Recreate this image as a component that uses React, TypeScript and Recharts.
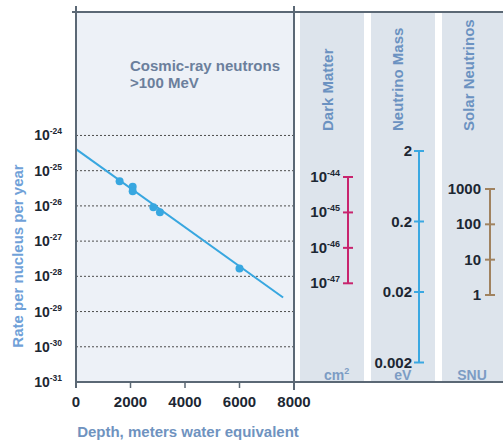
import React from 'react';
import { ComposedChart, Line, Scatter, XAxis, YAxis, CartesianGrid } from 'recharts';

// Depth axis (meters water equivalent)
const depthTicks = [0, 2000, 4000, 6000, 8000];
// Rate axis decades, per nucleus per year
const rateTicks = [1e-31, 1e-30, 1e-29, 1e-28, 1e-27, 1e-26, 1e-25, 1e-24];
// Measured cosmic-ray neutron rates at underground sites
const measuredDepth = [1600, 2080, 2080, 2840, 3080, 6000];
const measuredRate = [5.0e-26, 3.5e-26, 2.6e-26, 9.2e-27, 6.6e-27, 1.66e-28];
// Exponential fit through the measurements
const fitDepth = [0, 7600];
const fitRate = [4.1e-25, 2.5e-29];

// Sensitivity scales of the three physics searches
const darkMatterValues = [1e-44, 1e-45, 1e-46, 1e-47];
const neutrinoMassValues = [2, 0.2, 0.02, 0.002];
const neutrinoMassLabels = ['2', '0.2', '0.02', '0.002'];
const solarValues = [1000, 100, 10, 1];
const solarLabels = ['1000', '100', '10', '1'];

const FONT = "'Liberation Sans', Arial, Helvetica, sans-serif";
const FRAME = '#5b6875';
const INK = '#1c2733';
const LINE_BLUE = '#38a7e0';

const fitData = fitDepth.map((d, i) => ({ depth: d, rate: fitRate[i] }));
const measuredData = measuredDepth.map((d, i) => ({ depth: d, rate: measuredRate[i] }));

const expOf = (v: number) => Math.round(Math.log10(v));

const RateTick = (props: any) => {
  const { x, y, payload } = props;
  return (
    <text x={x} y={y} dy={5} textAnchor="end" fontFamily={FONT} fontWeight="bold" fontSize={14} fill={INK}>
      10
      <tspan fontSize={8.5} dy={-6}>{expOf(payload.value)}</tspan>
    </text>
  );
};

const DepthTick = (props: any) => {
  const { x, y, payload } = props;
  return (
    <text x={x} y={y} dy={17} textAnchor="middle" fontFamily={FONT} fontWeight="bold" fontSize={15} fill={INK}>
      {payload.value}
    </text>
  );
};

type SideProps = {
  values: number[];
  renderLabel: (v: number, i: number) => React.ReactNode;
  color: string;
  barX: number;
  yTop: number;
  yBottom: number;
  gap: number;
};

// One vertical sensitivity scale: a bar spanning the range, with a cap at each decade
function SideScale({ values, renderLabel, color, barX, yTop, yBottom, gap }: SideProps) {
  const max = Math.max(...values);
  const min = Math.min(...values);
  const pad = 20;
  const barData = [{ x: 0, v: max }, { x: 0, v: min }];
  const capData = values.map((v, i) => ({ x: 0, v, i }));
  const Cap = (p: any) => {
    const { cx, cy, payload } = p;
    return (
      <g>
        <line x1={cx - 5} x2={cx + 5} y1={cy} y2={cy} stroke={color} strokeWidth={2} />
        <text x={cx - gap} y={cy} dy={5} textAnchor="end" fontFamily={FONT} fontWeight="bold" fontSize={15} fill={INK}>
          {renderLabel(payload.v, payload.i)}
        </text>
      </g>
    );
  };
  return (
    <div style={{ position: 'absolute', left: barX - 100, top: yTop - pad }}>
      <ComposedChart width={140} height={yBottom - yTop + pad * 2} margin={{ top: pad, bottom: pad, left: 0, right: 0 }}>
        <XAxis hide type="number" dataKey="x" domain={[-100, 40]} />
        <YAxis hide type="number" dataKey="v" scale="log" domain={[min, max]} />
        <Line data={barData} dataKey="v" stroke={color} strokeWidth={2} dot={false} isAnimationActive={false} />
        <Scatter data={capData} dataKey="v" shape={Cap} isAnimationActive={false} />
      </ComposedChart>
    </div>
  );
}

export default function App() {
  const titleStyle = { fontFamily: FONT, fontWeight: 'bold' as const, fontSize: 15 };
  const unitStyle = { fontFamily: FONT, fontWeight: 'bold' as const, fontSize: 14 };
  return (
    <div style={{ position: 'absolute', left: 0, top: 0, width: 503, height: 445, background: '#ffffff', overflow: 'hidden' }}>
      {/* panel backgrounds */}
      <svg width={503} height={445} style={{ position: 'absolute', left: 0, top: 0 }}>
        <rect x={300} y={12} width={64} height={369} fill="#dde4ec" />
        <rect x={371} y={12} width={64} height={369} fill="#dde4ec" />
        <rect x={442} y={12} width={61} height={369} fill="#dde4ec" />
      </svg>

      <div style={{ position: 'absolute', left: 0, top: 0 }}>
        <ComposedChart width={503} height={445} margin={{ top: 12, right: 209, bottom: 33, left: 16 }}>
          <CartesianGrid vertical={false} fill="#edf1f7" stroke="#4d4d4d" strokeDasharray="2 2" />
          <XAxis
            type="number"
            dataKey="depth"
            domain={[0, 8000]}
            ticks={depthTicks}
            interval={0}
            height={30}
            axisLine={{ stroke: FRAME, strokeWidth: 2 }}
            tickLine={{ stroke: FRAME, strokeWidth: 1.5 }}
            tickSize={6}
            tickMargin={2}
            tick={DepthTick}
          />
          <YAxis
            type="number"
            dataKey="rate"
            scale="log"
            domain={[1e-31, 3.2e-21]}
            allowDataOverflow
            ticks={rateTicks}
            interval={0}
            width={60}
            axisLine={{ stroke: FRAME, strokeWidth: 2 }}
            tickLine={false}
            tickSize={0}
            tickMargin={14}
            tick={RateTick}
          />
          <Line data={fitData} dataKey="rate" stroke={LINE_BLUE} strokeWidth={2} dot={false} isAnimationActive={false} />
          <Scatter data={measuredData} dataKey="rate" fill={LINE_BLUE} shape={(p: any) => <circle cx={p.cx} cy={p.cy} r={4} fill={LINE_BLUE} />} isAnimationActive={false} />
        </ComposedChart>
      </div>

      <SideScale
        values={darkMatterValues}
        color="#c8246e"
        barX={348.3}
        yTop={176.7}
        yBottom={283}
        gap={8}
        renderLabel={(v) => (
          <>
            10<tspan fontSize={9} dy={-6}>{expOf(v)}</tspan>
          </>
        )}
      />
      <SideScale
        values={neutrinoMassValues}
        color="#3aa8e2"
        barX={419.3}
        yTop={150.5}
        yBottom={362}
        gap={7}
        renderLabel={(_v, i) => neutrinoMassLabels[i]}
      />
      <SideScale
        values={solarValues}
        color="#a0825f"
        barX={490}
        yTop={189}
        yBottom={295}
        gap={9}
        renderLabel={(_v, i) => solarLabels[i]}
      />

      {/* frame, titles and axis labels */}
      <svg width={503} height={445} style={{ position: 'absolute', left: 0, top: 0, pointerEvents: 'none' }}>
        <line x1={72} x2={503} y1={12} y2={12} stroke={FRAME} strokeWidth={2} />
        <line x1={76} x2={76} y1={6} y2={388} stroke={FRAME} strokeWidth={2} />
        <line x1={294} x2={294} y1={6} y2={390} stroke={FRAME} strokeWidth={2} />
        <line x1={294} x2={503} y1={382} y2={382} stroke={FRAME} strokeWidth={2} />

        <text x={130} y={71} {...titleStyle} fill="#6b7f9c">Cosmic-ray neutrons</text>
        <text x={130} y={88} {...titleStyle} fill="#6b7f9c">&gt;100 MeV</text>

        <text x={328} y={131} transform="rotate(-90 328 131)" dy="0.36em" {...titleStyle} fill="#6b92c1">Dark Matter</text>
        <text x={398} y={131} transform="rotate(-90 398 131)" dy="0.36em" {...titleStyle} fill="#6b92c1">Neutrino Mass</text>
        <text x={469} y={131} transform="rotate(-90 469 131)" dy="0.36em" {...titleStyle} fill="#6b92c1">Solar Neutrinos</text>

        <text x={336.7} y={380} textAnchor="middle" {...unitStyle} fill="#7c9cc4">
          cm<tspan fontSize={9} dy={-6}>2</tspan>
        </text>
        <text x={402.7} y={380} textAnchor="middle" {...unitStyle} fill="#7c9cc4">eV</text>
        <text x={472} y={380} textAnchor="middle" {...unitStyle} fill="#7c9cc4">SNU</text>

        <text x={18} y={256} transform="rotate(-90 18 256)" dy="0.36em" textAnchor="middle" {...titleStyle} fill="#70a1d8">
          Rate per nucleus per year
        </text>
        <text x={188} y={437} textAnchor="middle" {...titleStyle} fill="#6f93bf">
          Depth, meters water equivalent
        </text>
      </svg>
    </div>
  );
}
